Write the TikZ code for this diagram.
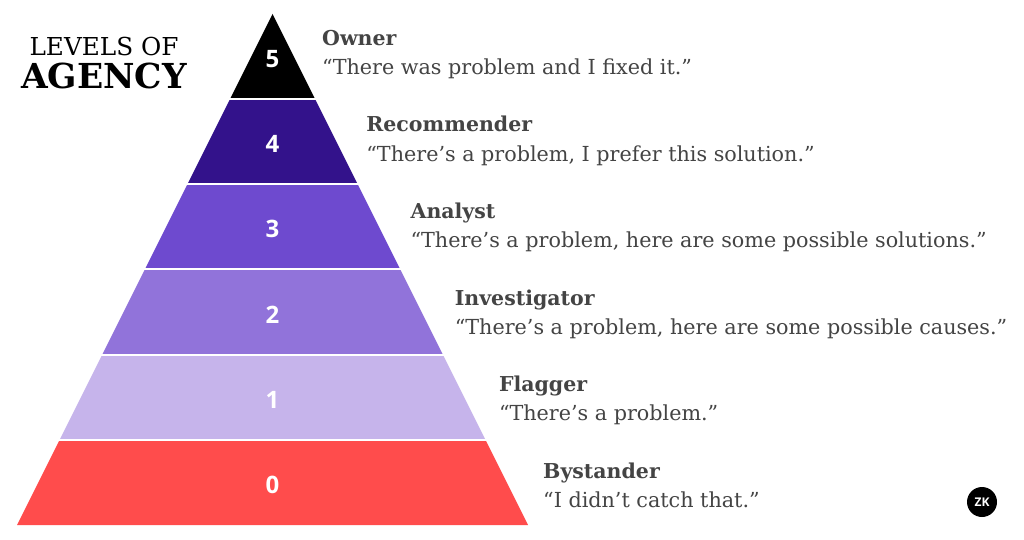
\documentclass[tikz,border=0pt]{standalone}
\usepackage{fontspec}
\setmainfont{DejaVu Serif}
\newfontfamily\numfont{Open Sans}
\definecolor{lvlfive}{HTML}{000000}
\definecolor{lvlfour}{HTML}{33128B}
\definecolor{lvlthree}{HTML}{6E4ACF}
\definecolor{lvltwo}{HTML}{9173DA}
\definecolor{lvlone}{HTML}{C6B4EB}
\definecolor{lvlzero}{HTML}{FF4C4C}
\definecolor{quotegray}{HTML}{444444}
\tikzset{
  levelnum/.style={text=white, font=\numfont\fontsize{24}{24}\selectfont\bfseries},
  rolename/.style={anchor=base west, inner sep=0pt, text=quotegray, font=\fontsize{20.5}{20.5}\selectfont\bfseries},
  rolequote/.style={anchor=base west, inner sep=0pt, text=quotegray, font=\fontsize{20.7}{20.7}\selectfont},
}
\begin{document}
\begin{tikzpicture}[x=1pt,y=-1pt]
\fill[white] (0,0) rectangle (1024,540);
\useasboundingbox (0,0) rectangle (1024,540);
% Title
\node[anchor=base, font=\fontsize{24.7}{24.7}\selectfont] (title1) at (104,56) {LEVELS OF};
\node[anchor=base, font=\fontsize{34.4}{34.4}\selectfont\bfseries] (title2) at (104,89) {AGENCY};
% Pyramid levels: index/colour/role/quote
\foreach \i/\col/\role/\quote in {
  0/lvlzero/Bystander/{“I didn’t catch that.”},
  1/lvlone/Flagger/{“There’s a problem.”},
  2/lvltwo/Investigator/{“There’s a problem, here are some possible causes.”},
  3/lvlthree/Analyst/{“There’s a problem, here are some possible solutions.”},
  4/lvlfour/Recommender/{“There’s a problem, I prefer this solution.”},
  5/lvlfive/Owner/{“There was problem and I fixed it.”}}{
  \pgfmathsetmacro{\ybot}{525-85.2*\i}
  \pgfmathsetmacro{\ytop}{525-85.2*(\i+1)}
  \pgfmathsetmacro{\hbot}{0.5*(\ybot-14)}
  \pgfmathsetmacro{\htop}{0.5*(\ytop-14)}
  \fill[\col] (272.5-\hbot,\ybot) -- (272.5+\hbot,\ybot) -- (272.5+\htop,\ytop) -- (272.5-\htop,\ytop) -- cycle;
  \node[levelnum] (num\i) at (272.5,\ybot-40) {\i};
  \node[rolename] (role\i) at (543-44.2*\i,478-86.5*\i) {\role};
  \node[rolequote] (quote\i) at (543-44.2*\i,507-86.5*\i) {\quote};
}
% Separators
\foreach \i in {1,...,5}{
  \pgfmathsetmacro{\ysep}{525-85.2*\i}
  \pgfmathsetmacro{\hsep}{0.5*(\ysep-14)}
  \draw[white, line width=2pt] (272.5-\hsep-2,\ysep) -- (272.5+\hsep+2,\ysep);
}
% Badge
\node[circle, fill=black, text=white, minimum size=30pt, inner sep=0pt, font=\numfont\fontsize{12}{12}\selectfont\bfseries] (badge) at (982,502) {ZK};
\end{tikzpicture}
\end{document}
